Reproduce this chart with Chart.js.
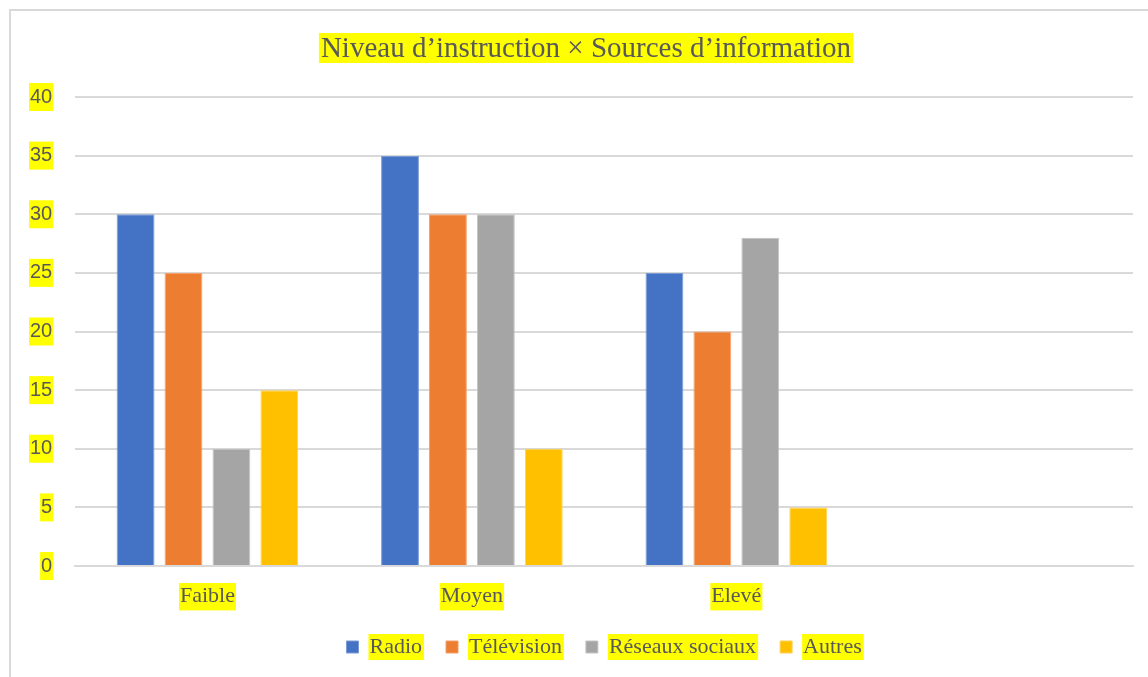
<!DOCTYPE html>
<html>
<head>
<meta charset="utf-8">
<script src="https://cdn.jsdelivr.net/npm/chart.js@4.4.0/dist/chart.umd.min.js"></script>
<style>
html, body { margin: 0; padding: 0; background: #fff; overflow: hidden; }
#frame { position: absolute; left: 9px; top: 9px; width: 1200px; height: 720px; border: 2px solid #d9d9d9; box-sizing: border-box; }
#wrap { position: absolute; left: 0; top: 0; width: 1148px; height: 677px; }
</style>
</head>
<body>
<div id="frame"></div>
<div id="wrap"><canvas id="barChart" width="1148" height="677"></canvas></div>
<script>
// data
var titleText = 'Niveau d\u2019instruction \u00d7 Sources d\u2019information';
var niveaux = ['Faible', 'Moyen', 'Elev\u00e9', ''];
var radio = [30, 35, 25, null];
var television = [25, 30, 20, null];
var reseaux = [10, 30, 28, null];
var autres = [15, 10, 5, null];
var yTicks = [0, 5, 10, 15, 20, 25, 30, 35, 40];

var serif = "'Liberation Serif', 'Times New Roman', serif";
var sans = "'Liberation Sans', Arial, sans-serif";
var textColor = '#595959';
var mark = '#ffff00';

// yellow highlight behind title and legend texts, title drawn here
var highlight = {
	id: 'highlight',
	beforeDraw: function (chart) {
		var ctx = chart.ctx;
		ctx.save();
		ctx.font = '29px ' + serif;
		var w = ctx.measureText(titleText).width;
		var cx = 586, cy = 48;
		ctx.fillStyle = mark;
		ctx.fillRect(cx - w / 2 - 2, cy - 15, w + 4, 30);
		ctx.fillStyle = textColor;
		ctx.textAlign = 'center';
		ctx.textBaseline = 'middle';
		ctx.fillText(titleText, cx, cy + 1);

		var legend = chart.legend;
		var lo = chart.options.plugins.legend.labels;
		ctx.font = lo.font.size + 'px ' + serif;
		ctx.fillStyle = mark;
		legend.legendHitBoxes.forEach(function (hb, i) {
			var item = legend.legendItems[i];
			var x = hb.left + lo.boxWidth + lo.font.size / 2;
			var tw = ctx.measureText(item.text).width;
			ctx.fillRect(x - 1, hb.top + hb.height / 2 - 13, tw + 3, 26);
		});
		ctx.restore();
	}
};

var chartdata = {
	labels: niveaux,
	datasets: [
		{ label: 'Radio', data: radio, backgroundColor: '#4472C4', borderColor: '#7a9ad6' },
		{ label: 'T\u00e9l\u00e9vision', data: television, backgroundColor: '#ED7D31', borderColor: '#f3a06a' },
		{ label: 'R\u00e9seaux sociaux', data: reseaux, backgroundColor: '#A5A5A5', borderColor: '#c4c4c4' },
		{ label: 'Autres', data: autres, backgroundColor: '#FFC000', borderColor: '#ffd255' }
	]
};
chartdata.datasets.forEach(function (d) {
	d.borderWidth = 1;
	d.categoryPercentage = 0.725;
	d.barPercentage = 0.79;
});

var ctx = document.getElementById('barChart');
var barGraph = new Chart(ctx, {
	type: 'bar',
	data: chartdata,
	plugins: [highlight],
	options: {
		responsive: false,
		animation: false,
		layout: { padding: { top: 97, left: 7, right: 15, bottom: 9 } },
		plugins: {
			title: { display: false },
			tooltip: { enabled: false },
			legend: {
				position: 'bottom',
				fullSize: false,
				labels: {
					boxWidth: 12,
					boxHeight: 12,
					padding: 24,
					color: textColor,
					font: { family: serif, size: 22 }
				}
			}
		},
		scales: {
			x: {
				grid: { display: false, drawTicks: false },
				border: { display: true, color: '#d9d9d9', width: 2 },
				afterFit: function (axis) { axis.height = 46; },
				ticks: {
					color: textColor,
					padding: 17,
					font: { family: serif, size: 22 },
					showLabelBackdrop: function (c) { return c.index < 3; },
					backdropColor: mark,
					backdropPadding: { left: 1, right: 1, top: 0, bottom: 1 }
				}
			},
			y: {
				min: 0,
				max: 40,
				afterBuildTicks: function (axis) {
					axis.ticks = yTicks.map(function (v) { return { value: v }; });
				},
				grid: { color: '#d9d9d9', lineWidth: 2, drawTicks: false },
				border: { display: false },
				ticks: {
					color: textColor,
					padding: 23,
					font: { family: sans, size: 20 },
					showLabelBackdrop: true,
					backdropColor: mark,
					backdropPadding: { left: 1, right: 1, top: 2, bottom: 2 }
				}
			}
		}
	}
});
</script>
</body>
</html>
